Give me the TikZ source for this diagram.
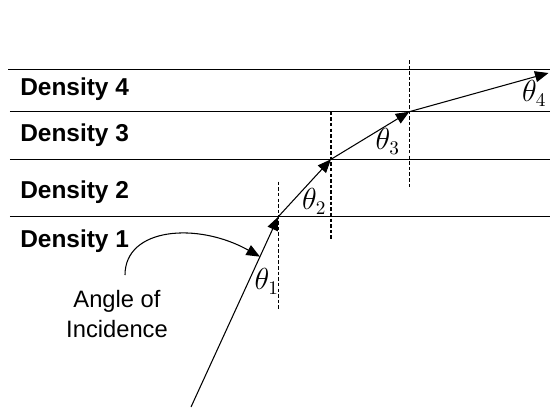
\documentclass[tikz,border=0pt]{standalone}
\usepackage{fontspec}
\setmainfont{Liberation Sans}
\usetikzlibrary{arrows.meta,calc,positioning}

\begin{document}
\begin{tikzpicture}[
    font=\fontsize{13.5}{17}\selectfont,
    >={Triangle[length=2.7mm, width=2.2mm]},
]

\tikzset{
    boundary/.style = {line width=0.6pt, draw=black},
    normal/.style = {line width=0.6pt, dash pattern=on 2pt off 1.2pt},
    ray/.style = {line width=0.6pt, ->},
    density/.style = {font=\fontsize{13.9}{16}\selectfont\bfseries, anchor=base west, inner sep=0pt},
    angle_label/.style = {font=\fontsize{16}{18}\selectfont, inner sep=0pt}
}

\useasboundingbox (0,0) rectangle (11,8.16);

% =========== LAYER BOUNDARIES ===========
\draw[boundary] (0.16,6.774) -- (11,6.774);
\draw[boundary] (0.2,5.926) -- (11,5.926);
\draw[boundary] (0.2,4.974) -- (11,4.974);
\draw[boundary] (0.2,3.826) -- (11,3.826);

% Layer names
\node[density] (dens4) at (0.4,6.246) {Density 4};
\node[density] (dens3) at (0.4,5.326) {Density 3};
\node[density] (dens2) at (0.4,4.194) {Density 2};
\node[density] (dens1) at (0.4,3.206) {Density 1};

% =========== RAY ===========
\coordinate (p0) at (3.82,0.02);
\coordinate (p1) at (5.566,3.826);
\coordinate (p2) at (6.62,4.974);
\coordinate (p3) at (8.186,5.926);
\coordinate (p4) at (10.97,6.70);

\draw[ray] (p0) -- (p1);
\draw[ray] (p1) -- (p2);
\draw[ray] (p2) -- (p3);
\draw[ray] (p3) -- (p4);

% Normals at each boundary
\draw[normal] ($(p1)+(0,0.7)$) -- ($(p1)+(0,-1.866)$);
\draw[normal] ($(p2)+(0,0.952)$) -- ($(p2)+(0,-1.614)$);
\draw[normal] ($(p3)+(0,1.034)$) -- ($(p3)+(0,-1.532)$);

% Angles
\node[angle_label] (th1) at (5.334,2.526) {$\theta_1$};
\node[angle_label] (th2) at (6.286,4.126) {$\theta_2$};
\node[angle_label] (th3) at (7.754,5.326) {$\theta_3$};
\node[angle_label] (th4) at (10.686,6.294) {$\theta_4$};

% =========== ANNOTATION ===========
\node[align=center, inner sep=0pt] (incidence) at (2.34,1.88) {Angle of\\Incidence};
\coordinate (inc_start) at ($(incidence.north)+(0.16,0.3)$);
\coordinate (inc_end) at ($(p0)!0.79!(p1)$);
\draw[ray] (inc_start) .. controls +(0,0.95) and +(-1.25,0.7) .. (inc_end);

\end{tikzpicture}
\end{document}
